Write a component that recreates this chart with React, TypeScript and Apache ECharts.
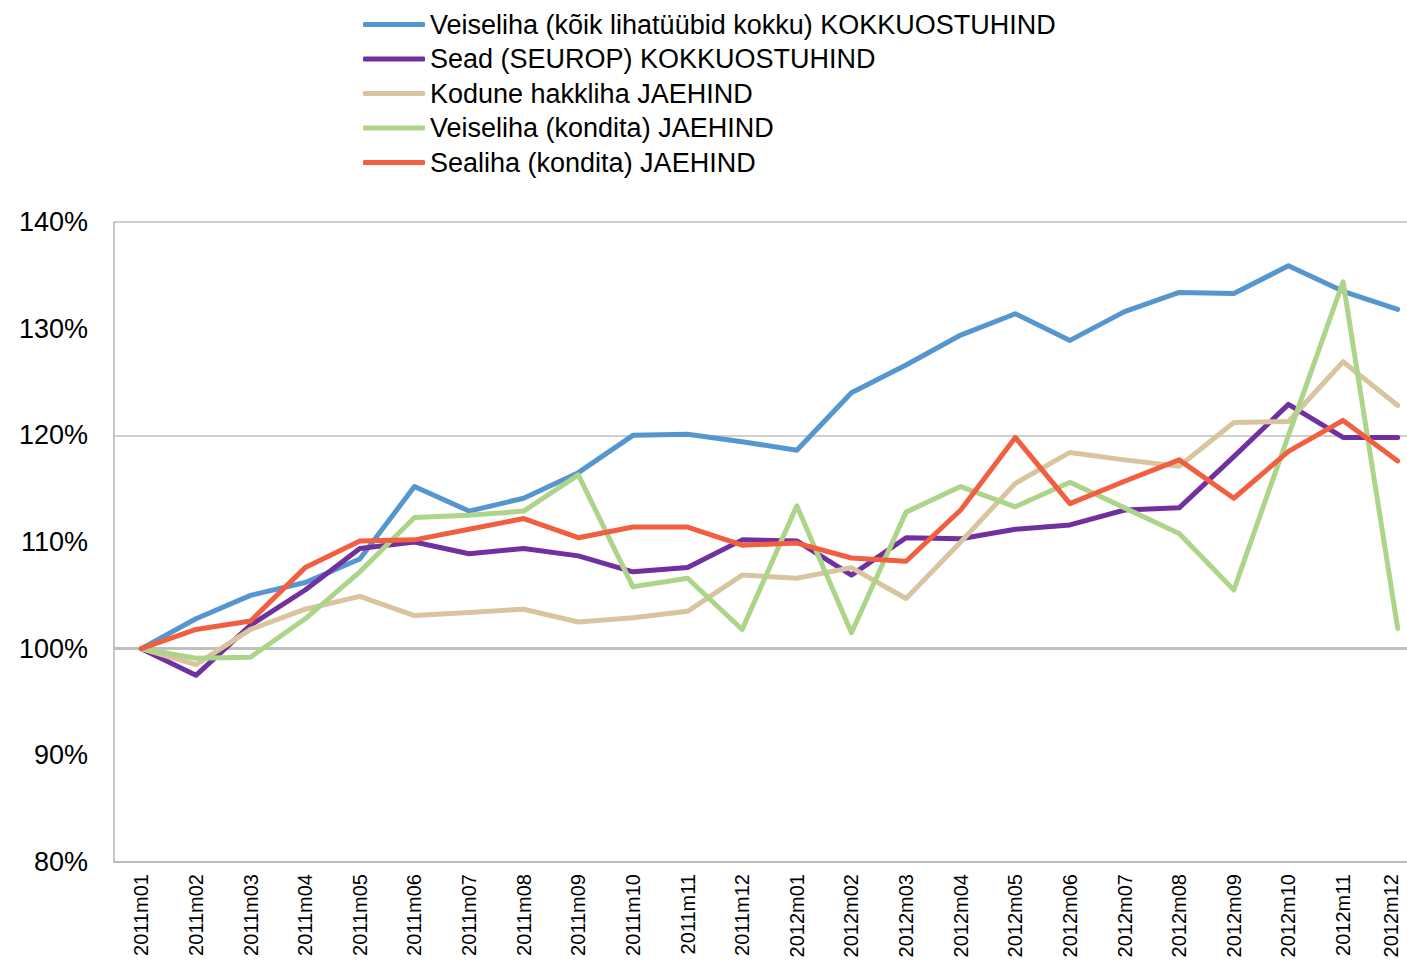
import React, { useEffect, useRef } from "react";
import * as echarts from "echarts";

const categories = [
  "2011m01", "2011m02", "2011m03", "2011m04", "2011m05", "2011m06",
  "2011m07", "2011m08", "2011m09", "2011m10", "2011m11", "2011m12",
  "2012m01", "2012m02", "2012m03", "2012m04", "2012m05", "2012m06",
  "2012m07", "2012m08", "2012m09", "2012m10", "2012m11", "2012m12",
];

const seriesNames = [
  "Veiseliha (kõik lihatüübid kokku) KOKKUOSTUHIND",
  "Sead (SEUROP) KOKKUOSTUHIND",
  "Kodune hakkliha JAEHIND",
  "Veiseliha (kondita) JAEHIND",
  "Sealiha (kondita) JAEHIND",
];

const veiselihaKokku = [
  100, 102.8, 105.0, 106.2, 108.4, 115.2, 112.9, 114.1, 116.5, 120.0, 120.1, 119.4,
  118.6, 124.0, 126.6, 129.4, 131.4, 128.9, 131.6, 133.4, 133.3, 135.9, 133.5, 131.8,
];
const seadSeurop = [
  100, 97.5, 102.2, 105.5, 109.4, 110.0, 108.9, 109.4, 108.7, 107.2, 107.6, 110.2,
  110.1, 106.9, 110.4, 110.3, 111.2, 111.6, 113.0, 113.2, 118.0, 122.9, 119.8, 119.8,
];
const koduneHakkliha = [
  100, 98.5, 101.8, 103.7, 104.9, 103.1, 103.4, 103.7, 102.5, 102.9, 103.5, 106.9,
  106.6, 107.6, 104.7, 110.0, 115.5, 118.4, 117.7, 117.1, 121.2, 121.3, 126.9, 122.8,
];
const veiselihaKondita = [
  100, 99.1, 99.2, 102.8, 107.2, 112.3, 112.5, 112.9, 116.3, 105.8, 106.6, 101.8,
  113.4, 101.5, 112.8, 115.2, 113.3, 115.6, 113.2, 110.8, 105.5, 120.0, 134.4, 101.9,
];
const sealihaKondita = [
  100, 101.8, 102.6, 107.6, 110.1, 110.2, 111.2, 112.2, 110.4, 111.4, 111.4, 109.7,
  109.9, 108.5, 108.2, 113.0, 119.8, 113.6, 115.7, 117.7, 114.1, 118.5, 121.4, 117.6,
];

const seriesData = [veiselihaKokku, seadSeurop, koduneHakkliha, veiselihaKondita, sealihaKondita];
const colors = ["#5596CE", "#7030A0", "#D8C59F", "#ADD58A", "#F15E40"];

const FONT = "'Liberation Sans', Arial, sans-serif";

export default function App() {
  const ref = useRef<HTMLDivElement>(null);
  useEffect(() => {
    if (!ref.current) return;
    const chart = echarts.init(ref.current, undefined, { renderer: "svg" });
    const series: any[] = seriesNames.map((name, i) => ({
      name,
      type: "line",
      data: seriesData[i],
      symbol: "none",
      lineStyle: { width: 5, color: colors[i], cap: "round", join: "round" },
      itemStyle: { color: colors[i] },
      z: 3,
    }));
    series[0].markLine = {
      silent: true,
      symbol: "none",
      label: { show: false },
      lineStyle: { color: "#C0C0C0", width: 3, type: "solid" },
      data: [{ yAxis: 100 }],
      z: 1,
    };
    const lastIndex = categories.length - 1;
    const xData = categories.map((c, i) =>
      i === lastIndex ? { value: c, textStyle: { verticalAlign: "bottom" } } : c
    );
    chart.setOption({
      animation: false,
      backgroundColor: "#ffffff",
      color: colors,
      textStyle: { fontFamily: FONT },
      legend: {
        orient: "vertical",
        left: 358,
        top: 6,
        itemWidth: 62,
        itemHeight: 5,
        itemGap: 7.5,
        icon: "roundRect",
        textStyle: { fontSize: 27, lineHeight: 27, color: "#000", fontFamily: FONT },
        data: seriesNames,
      },
      grid: {
        left: 114,
        top: 222,
        height: 640,
        width: 1311,
        containLabel: false,
        outerBoundsMode: "none",
      },
      xAxis: {
        type: "category",
        data: xData,
        boundaryGap: true,
        axisLine: { lineStyle: { color: "#B3B3B3", width: 1.5 } },
        axisTick: { show: false },
        axisLabel: {
          rotate: 90,
          margin: 12,
          fontSize: 20,
          lineHeight: 14,
          color: "#000",
          fontFamily: FONT,
          interval: 0,
        },
      },
      yAxis: [
        {
          type: "value",
          min: 80,
          max: 140,
          interval: 10,
          axisLine: { show: true, lineStyle: { color: "#B3B3B3", width: 1.5 } },
          axisTick: { show: false },
          splitLine: { show: false },
          axisLabel: {
            formatter: "{value}%",
            fontSize: 27,
            margin: 26,
            color: "#000",
            fontFamily: FONT,
          },
        },
        {
          type: "value",
          min: 80,
          max: 140,
          interval: 20,
          position: "left",
          axisLine: { show: false },
          axisTick: { show: false },
          axisLabel: { show: false },
          splitLine: { show: true, lineStyle: { color: "#C0C0C0", width: 1.5 } },
        },
      ],
      series,
    });
    return () => chart.dispose();
  }, []);
  return (
    <div
      ref={ref}
      style={{ position: "fixed", left: 0, top: 0, width: 1407, height: 963 }}
    />
  );
}
